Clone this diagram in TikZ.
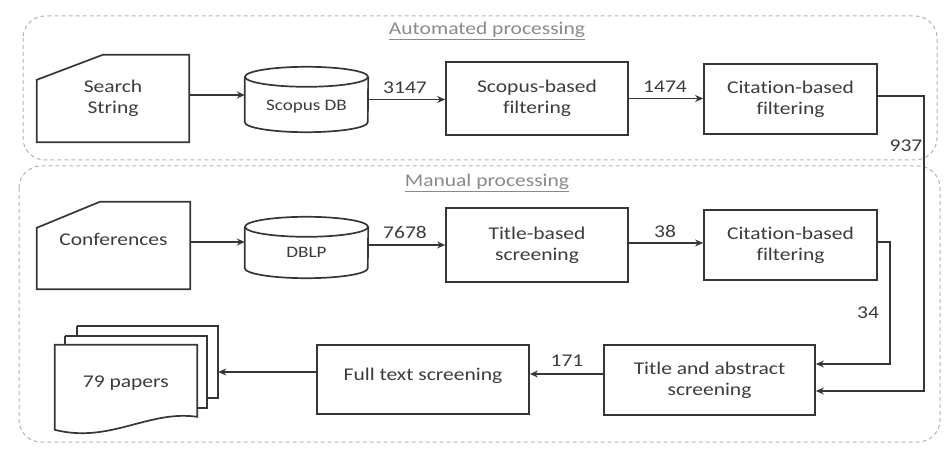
\documentclass[tikz,border=0pt]{standalone}
\usepackage{fontspec}
\setmainfont{Carlito}[FakeStretch=1.2, Ligatures=NoCommon]
\usetikzlibrary{arrows.meta,calc}
\definecolor{linec}{HTML}{363636}
\definecolor{txtc}{HTML}{3C3C3C}
\definecolor{framec}{HTML}{B4B4B4}
\definecolor{titlec}{HTML}{8A8A8A}
\begin{document}
\begin{tikzpicture}[x=1bp,y=-1bp,
  every node/.style={font=\fontsize{18}{21}\selectfont, text=txtc, inner sep=0pt},
  box/.style={draw=linec, line width=1.7bp, align=center},
  shapebox/.style={align=center},
  dbtext/.style={font=\fontsize{16}{19}\selectfont},
  lnk/.style={draw=linec, line width=1.7bp, -{Stealth[length=8bp,width=7bp]}},
  outline/.style={draw=linec, line width=1.7bp, line join=miter},
  frame/.style={draw=framec, line width=1bp, dash pattern=on 4bp off 3bp, rounded corners=22bp},
  num/.style={font=\fontsize{18}{21}\selectfont},
  grouptitle/.style={text=titlec, font=\fontsize{18}{21}\selectfont}]
\useasboundingbox (0,0) rectangle (944,449);

% group frames
\draw[frame] (23,16) rectangle (937,160);
\draw[frame] (19,166) rectangle (940,442);
\node[grouptitle] (autotitle) at (487,31) {\underline{Automated processing}};
\node[grouptitle] (mantitle) at (487,183) {\underline{Manual processing}};

% manual-input sources
\node[shapebox, minimum width=152bp, minimum height=87bp] (ss) at (113,98.5) {Search\\String};
\draw[outline] (ss.south west) -- (ss.south east) -- (ss.north east)
  -- ($(ss.north west)+(66,0)$) -- ($(ss.north west)+(0,25)$) -- cycle;
\node[shapebox, minimum width=153bp, minimum height=87bp, text depth=12bp] (conf) at (113.5,245.5) {Conferences};
\draw[outline] (conf.south west) -- (conf.south east) -- (conf.north east)
  -- ($(conf.north west)+(63,0)$) -- ($(conf.north west)+(0,26)$) -- cycle;

% databases
\node[shapebox, minimum width=123bp, minimum height=65bp] (db1) at (306.5,99.5) {};
\draw[outline] ($(db1.north west)+(0,10)$) -- ($(db1.south west)+(0,-10)$)
  arc[start angle=180, end angle=0, x radius=61.5, y radius=10]
  -- ($(db1.north east)+(0,10)$);
\draw[outline] ($(db1.north)+(0,10)$) ellipse[x radius=61.5, y radius=10];
\node[dbtext] (db1t) at ($(db1.center)+(0,7)$) {Scopus DB};
\node[shapebox, minimum width=123bp, minimum height=61bp] (db2) at (306.5,247.5) {};
\draw[outline] ($(db2.north west)+(0,10)$) -- ($(db2.south west)+(0,-10)$)
  arc[start angle=180, end angle=0, x radius=61.5, y radius=10]
  -- ($(db2.north east)+(0,10)$);
\draw[outline] ($(db2.north)+(0,10)$) ellipse[x radius=61.5, y radius=10];
\node[dbtext] (db2t) at ($(db2.center)+(0,5)$) {DBLP};

% process steps
\node[box, minimum width=182bp, minimum height=73bp] (sbf) at (537,98.5) {Scopus-based\\filtering};
\node[box, minimum width=173bp, minimum height=70bp] (cbf1) at (790.5,99) {Citation-based\\filtering};
\node[box, minimum width=182bp, minimum height=74bp] (tbs) at (537,245) {Title-based\\screening};
\node[box, minimum width=173bp, minimum height=70bp] (cbf2) at (790.5,245) {Citation-based\\filtering};
\node[box, minimum width=211bp, minimum height=70bp] (tas) at (709.5,380) {Title and abstract\\screening};
\node[box, minimum width=212bp, minimum height=69bp, text depth=10bp] (fts) at (423,379.5) {Full text screening};

% stack of result documents
\node[shapebox, minimum width=163bp, minimum height=111bp] (pap) at (136.5,381.5) {};
\draw[outline, fill=white] ($(pap.north west)+(22,0)$) -- (pap.north east) -- ($(pap.north east)+(0,72)$) -- ($(pap.north east)+(-11,72)$);
\draw[outline, fill=white] ($(pap.north west)+(10,10)$) -- ($(pap.north east)+(-11,10)$) -- ($(pap.north east)+(-11,82)$) -- ($(pap.north east)+(-21,82)$);
\draw[outline] ($(pap.north west)+(22,0)$) -- ($(pap.north west)+(22,10)$);
\draw[outline] ($(pap.north west)+(10,10)$) -- ($(pap.north west)+(10,19)$);
\draw[outline, fill=white] ($(pap.north west)+(0,19)$) -- ($(pap.north east)+(-21,19)$) -- ($(pap.north east)+(-21,91)$)
  .. controls ($(pap.north east)+(-70,84)$) and ($(pap.north west)+(55,118)$) .. ($(pap.north west)+(0,104)$) -- cycle;
\node (paptxt) at ($(pap.north west)+(71,57)$) {79 papers};

% automated flow
\draw[lnk] (ss.east |- 0,95) -- (db1.west |- 0,95);
\draw[lnk] (db1.east) -- (sbf.west |- db1.east);
\node[num] (n3147) at (405,88) {3147};
\draw[lnk] (sbf.east) -- (cbf1.west |- sbf.east);
\node[num] (n1474) at (665,87) {1474};
\draw[lnk] ($(cbf1.east)+(0,-3)$) -| ($(tas.east)+(108,11)$) -- ($(tas.east)+(0,11)$);
\node[num] (n937) at (906,146) {937};

% manual flow
\draw[lnk] (conf.east |- 0,242) -- (db2.west |- 0,242);
\draw[lnk] (db2.east |- 0,245) -- (tbs.west |- 0,245);
\node[num] (n7678) at (405,232) {7678};
\draw[lnk] (tbs.east |- 0,243) -- (cbf2.west |- 0,243);
\node[num] (n38) at (665,231) {38};
\draw[lnk] ($(cbf2.east)+(0,-3)$) -| ($(tas.east)+(74,-16)$) -- ($(tas.east)+(0,-16)$);
\node[num] (n34) at (868,313) {34};

% final steps
\draw[lnk] ($(tas.west)+(0,-6)$) -- ($(fts.east)+(0,-5.5)$);
\node[num] (n171) at (567,361) {171};
\draw[lnk] ($(fts.west)+(0,-7.5)$) -- (pap.east |- 0,372);
\end{tikzpicture}
\end{document}
